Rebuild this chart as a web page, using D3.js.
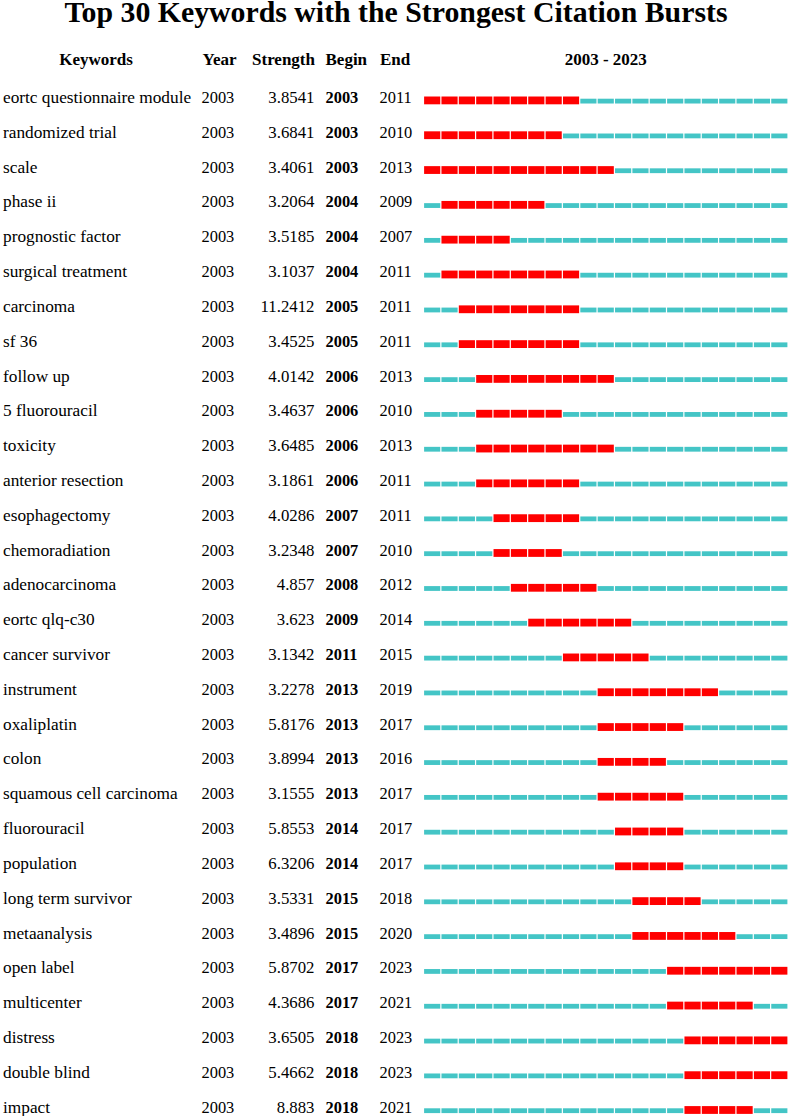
<!DOCTYPE html>
<html>
<head>
<meta charset="utf-8">
<script src="https://cdn.jsdelivr.net/npm/d3@7"></script>
<style>
  body { margin: 0; background: #fff; }
  svg text { font-family: "Liberation Serif", "Times New Roman", serif; fill: #000; }
</style>
</head>
<body>
<div id="chart"></div>
<script>
const keywords = ["eortc questionnaire module", "randomized trial", "scale", "phase ii", "prognostic factor",
  "surgical treatment", "carcinoma", "sf 36", "follow up", "5 fluorouracil", "toxicity", "anterior resection",
  "esophagectomy", "chemoradiation", "adenocarcinoma", "eortc qlq-c30", "cancer survivor", "instrument",
  "oxaliplatin", "colon", "squamous cell carcinoma", "fluorouracil", "population", "long term survivor",
  "metaanalysis", "open label", "multicenter", "distress", "double blind", "impact"];
const firstYear = [2003, 2003, 2003, 2003, 2003, 2003, 2003, 2003, 2003, 2003, 2003, 2003, 2003, 2003, 2003,
  2003, 2003, 2003, 2003, 2003, 2003, 2003, 2003, 2003, 2003, 2003, 2003, 2003, 2003, 2003];
const strength = [3.8541, 3.6841, 3.4061, 3.2064, 3.5185, 3.1037, 11.2412, 3.4525, 4.0142, 3.4637, 3.6485, 3.1861,
  4.0286, 3.2348, 4.857, 3.623, 3.1342, 3.2278, 5.8176, 3.8994, 3.1555, 5.8553, 6.3206, 3.5331, 3.4896,
  5.8702, 4.3686, 3.6505, 5.4662, 8.883];
const begin = [2003, 2003, 2003, 2004, 2004, 2004, 2005, 2005, 2006, 2006, 2006, 2006, 2007, 2007, 2008,
  2009, 2011, 2013, 2013, 2013, 2013, 2014, 2014, 2015, 2015, 2017, 2017, 2018, 2018, 2018];
const end = [2011, 2010, 2013, 2009, 2007, 2011, 2011, 2011, 2013, 2010, 2013, 2011, 2011, 2010, 2012,
  2014, 2015, 2019, 2017, 2016, 2017, 2017, 2017, 2018, 2020, 2023, 2021, 2023, 2023, 2021];
const timeline = d3.range(2003, 2024);

const width = 789, height = 1116;

const svg = d3.select("#chart").append("svg")
    .attr("width", width)
    .attr("height", height);

const y = d3.scaleBand()
    .domain(d3.range(keywords.length))
    .range([83.1, 1127.5]);

const x = d3.scaleBand()
    .domain(timeline)
    .range([423.5, 788]);

// title
svg.append("text")
    .attr("x", 396)
    .attr("y", 21.5)
    .attr("text-anchor", "middle")
    .style("font-size", "29.8px")
    .style("font-weight", "bold")
    .text("Top 30 Keywords with the Strongest Citation Bursts");

// header
const header = [
  { t: "Keywords", x: 96, a: "middle" },
  { t: "Year", x: 202.5, a: "start" },
  { t: "Strength", x: 315, a: "end" },
  { t: "Begin", x: 325.5, a: "start" },
  { t: "End", x: 380, a: "start" },
  { t: "2003 - 2023", x: (x.range()[0] + x.range()[1]) / 2, a: "middle" }
];
svg.append("g").selectAll("text")
    .data(header)
    .join("text")
    .attr("x", d => d.x)
    .attr("y", 65)
    .attr("text-anchor", d => d.a)
    .style("font-size", "17px")
    .style("font-weight", "bold")
    .text(d => d.t);

const rows = svg.append("g").selectAll("g")
    .data(keywords.map((k, i) => ({ k, i })))
    .join("g")
    .attr("transform", d => "translate(0," + (y(d.i) + y.bandwidth() / 2) + ")");

rows.append("text").attr("x", 3).attr("y", 2.5)
    .style("font-size", "17.3px").text(d => d.k);
rows.append("text").attr("x", 201.5).attr("y", 2.5)
    .style("font-size", "16.4px").text(d => firstYear[d.i]);
rows.append("text").attr("x", 314.5).attr("y", 2.5).attr("text-anchor", "end")
    .style("font-size", "16.8px").text(d => strength[d.i]);
rows.append("text").attr("x", 325.5).attr("y", 2.5)
    .style("font-size", "16.4px").style("font-weight", "bold").text(d => begin[d.i]);
rows.append("text").attr("x", 379.5).attr("y", 2.5)
    .style("font-size", "16.4px").text(d => end[d.i]);

// burst timeline
rows.selectAll("rect")
    .data(d => timeline.map(yr => ({ yr, on: yr >= begin[d.i] && yr <= end[d.i] })))
    .join("rect")
    .attr("x", d => x(d.yr) + 0.6)
    .attr("width", x.bandwidth() - 1.2)
    .attr("y", d => d.on ? -4 : -1.8)
    .attr("height", d => d.on ? 7.8 : 4.8)
    .attr("fill", d => d.on ? "#ff0000" : "#44c5c6");
</script>
</body>
</html>
